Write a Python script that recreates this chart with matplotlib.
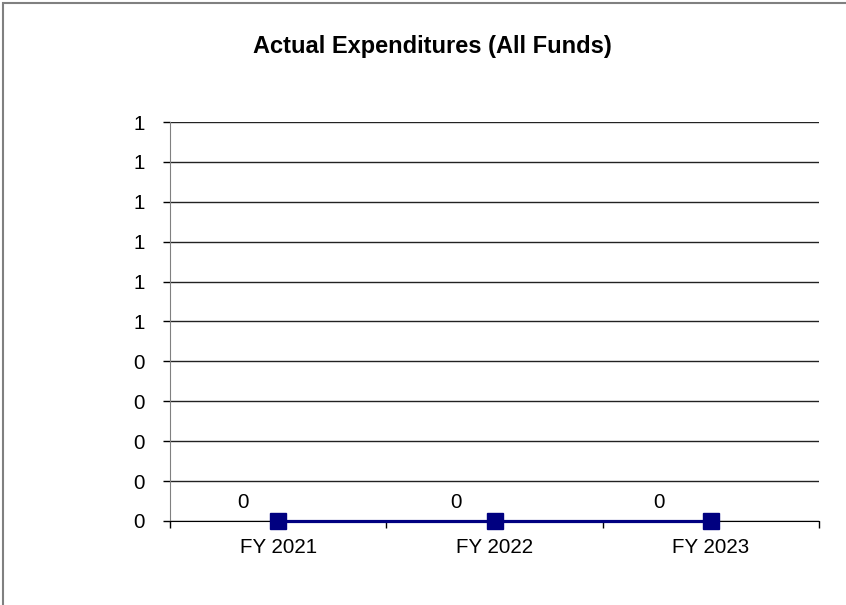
import matplotlib
matplotlib.use("Agg")
import matplotlib.pyplot as plt
from matplotlib.ticker import MultipleLocator, FuncFormatter, FixedLocator
from matplotlib.patches import Rectangle
import math

categories = ["FY 2021", "FY 2022", "FY 2023"]
values = [0, 0, 0]
data_labels = ["0", "0", "0"]
title = "Actual Expenditures (All Funds)"

plt.rcParams['font.family'] = ['Liberation Sans', 'DejaVu Sans']

fig = plt.figure(figsize=(8.46, 6.05), dpi=100)
fig.patches.append(Rectangle((3/846, -0.5), 2.0, 1.5 - 3/605, transform=fig.transFigure,
                             fill=False, edgecolor='#808080', linewidth=1.5, zorder=0))

ax = fig.add_axes([170/846, 1 - 521/605, (819 - 170)/846, (521 - 122)/605])
x = list(range(len(categories)))
ax.plot(x, values, color='#000080', linewidth=2.3, marker='s', markersize=11,
        markerfacecolor='#000080', markeredgecolor='#000080', clip_on=False, zorder=5)

label_dx = [-35, -39, -52]
for xi, v, lab, dx in zip(x, values, data_labels, label_dx):
    ax.annotate(lab, (xi, v), xytext=(dx, 18), textcoords='offset pixels',
                ha='center', va='center', fontsize=14.8, color='black')

ax.set_xlim(-0.5, len(categories) - 0.5)
ax.set_ylim(0, 1)
ax.yaxis.set_major_locator(MultipleLocator(0.1))
ax.yaxis.set_major_formatter(FuncFormatter(lambda v, p: str(int(math.floor(v + 0.5 + 1e-9)))))
ax.set_xticks(x)
ax.set_xticklabels(categories)
ax.xaxis.set_minor_locator(FixedLocator([i - 0.5 for i in range(len(categories) + 1)]))
ax.tick_params(axis='x', which='major', length=0, pad=12, labelsize=14.8)
ax.tick_params(axis='x', which='minor', length=5, width=1, color='black', direction='out')
ax.tick_params(axis='y', which='major', length=5, width=1, color='black', direction='out',
               pad=13, labelsize=14.8)
ax.grid(axis='y', color='#222222', linewidth=1)
ax.set_axisbelow(True)
for s in ['top', 'right']:
    ax.spines[s].set_visible(False)
ax.spines['left'].set_color('#808080')
ax.spines['bottom'].set_color('black')

fig.text(432/846, 1 - 46/605, title, ha='center', va='center', fontsize=17, fontweight='bold')

fig.savefig("out.png", dpi=100)
